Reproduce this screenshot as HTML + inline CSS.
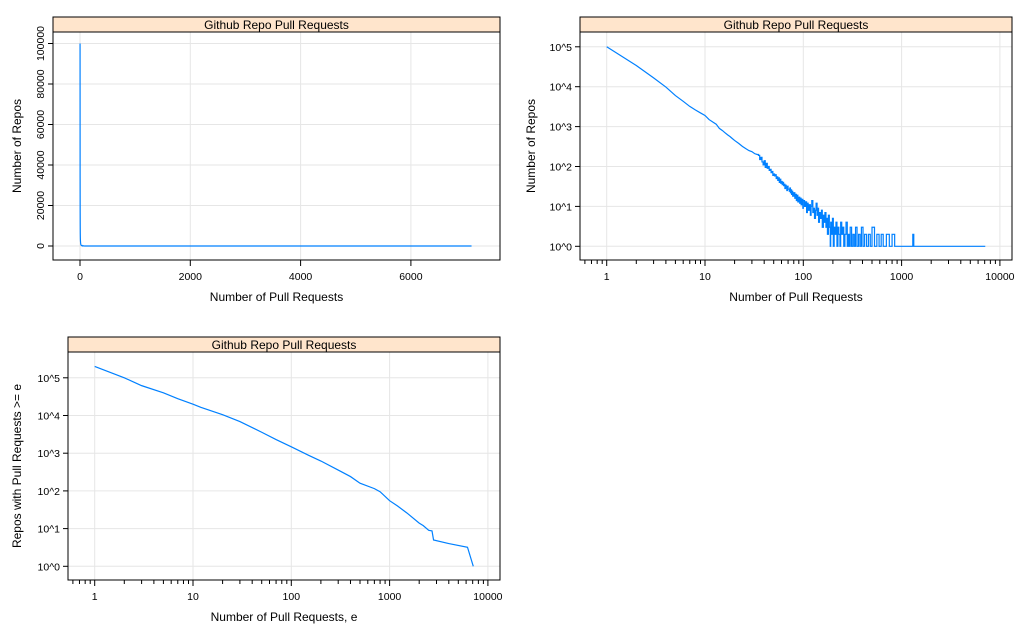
<!DOCTYPE html>
<html><head><meta charset="utf-8">
<style>
html,body{margin:0;padding:0;background:#fff;}
svg{display:block;font-family:"Liberation Sans",Arial,sans-serif;}
</style></head>
<body>
<svg id="chart" width="1024" height="640" viewBox="0 0 1024 640" xmlns="http://www.w3.org/2000/svg"></svg>
<script>
// Distribution data: number of pull requests vs number of repos (nonzero counts only)
const prCounts = [1,2,3,4,5,6,7,8,9,10,11,12,13,14,15,16,17,18,19,20,22,24,26,28,30,32,34,35,36,37,38,39,40,41,42,43,44,45,46,47,48,49,50,51,52,53,54,55,56,57,58,59,60,61,62,63,64,65,66,67,68,69,70,72,73,74,75,76,77,78,80,82,83,85,86,88,90,92,93,95,97,99,100,103,105,108,110,112,115,118,120,122,125,128,130,133,135,138,140,143,146,150,153,156,160,163,166,170,173,176,180,184,188,190,194,198,202,206,210,215,220,225,230,236,240,246,252,258,265,272,280,288,295,300,310,320,330,340,352,365,378,390,405,420,440,460,480,500,530,560,590,620,650,700,750,800,850,1250,1300,1330,7100];
const repoCounts = [100000,34000,16600,9800,6000,4300,3200,2600,2200,1900,1500,1300,1150,900,800,700,620,560,500,450,380,320,280,250,235,210,200,190,150,170,130,110,140,95,120,90,100,80,85,70,75,60,65,58,62,50,55,45,52,40,48,38,42,35,40,33,36,28,34,30,25,32,27,24,29,22,26,20,24,18,22,16,20,14,19,13,17,12,16,11,15,9,14,10,13,7,12,8,11,6,10,14,7,9,5,8,12,6,9,4,7,5,8,3,6,4,7,3,5,2,6,3,1,4,2,5,1,3,2,4,1,3,2,1,4,2,3,1,2,4,1,2,1,3,1,2,1,3,1,2,1,3,1,2,1,2,1,3,1,2,1,2,1,2,1,2,1,1,2,1,1];
// Cumulative: repos with pull requests >= e
const cumE = [1,2,3,5,7,10,12,20,30,50,70,100,150,200,300,400,500,700,800,1000,1200,1500,2000,2200,2500,2700,2800,4000,6200,7100];
const cumRepos = [200000,100000,62000,40000,28000,20000,16500,10500,6900,3600,2300,1480,880,620,357,240,160,115,95,55,40,26,14,12,9,8.7,5,4,3.2,1];
const linXTicks = [0,2000,4000,6000];
const linYTicks = [0,20000,40000,60000,80000,100000];
const logXTicks = [1,10,100,1000,10000];
const logYTicks = [0,1,2,3,4,5];

const NS="http://www.w3.org/2000/svg";
const svg=document.getElementById('chart');
function mk(tag,attrs,parent){const e=document.createElementNS(NS,tag);for(const k in attrs)e.setAttribute(k,attrs[k]);(parent||svg).appendChild(e);return e;}

function panel(p){
  const g=mk('g',{});
  
  
  const X=p.sx,Y=p.sy;
  p.xg.forEach(v=>{const gx=X(v);const l=mk('line',{x1:gx,x2:gx,y1:p.t+15,y2:p.b,stroke:'#e6e6e6','stroke-width':1},g);
    });
  p.yg.forEach(v=>{const gy=Y(v);const l=mk('line',{x1:p.l,x2:p.r,y1:gy,y2:gy,stroke:'#e6e6e6','stroke-width':1},g);
    });
  let d='';
  p.xs.forEach((xv,i)=>{const px=X(xv),py=Y(p.ys[i]);
    if(i===0)d+='M'+px.toFixed(2)+','+py.toFixed(2);
    else if(p.step&&xv>=p.step)d+='H'+px.toFixed(2)+'V'+py.toFixed(2);
    else d+='L'+px.toFixed(2)+','+py.toFixed(2);});
  const path=mk('path',{d:d,fill:'none',stroke:'#0080ff','stroke-width':1.2},g);
  
  
  const s=mk('rect',{x:p.l,y:p.t,width:p.r-p.l,height:15,fill:'#ffe5cc',stroke:'#000','stroke-width':1},g);
  
  const st=mk('text',{x:(p.l+p.r)/2,y:p.t+12,'text-anchor':'middle','font-size':12,fill:'#000'},g);
  st.textContent='Github Repo Pull Requests';
  
  const f=mk('rect',{x:p.l,y:p.t,width:p.r-p.l,height:p.b-p.t,fill:'none',stroke:'#000','stroke-width':1},g);
  
  p.xt.forEach((v,i)=>{const px=X(v);mk('line',{x1:px,x2:px,y1:p.b,y2:p.b+6,stroke:'#000'},g);
    const t=mk('text',{x:px,y:p.b+20,'text-anchor':'middle','font-size':10.5,fill:'#000'},g);
    t.textContent=p.xl[i];});
  if(p.minor){for(let dec=-1;dec<4;dec++)for(let m=2;m<=9;m++){const v=m*Math.pow(10,dec);if(v<0.6||v>9000)continue;const px=X(v);
    mk('line',{x1:px,x2:px,y1:p.b,y2:p.b+4,stroke:'#000'},g);}}
  p.yt.forEach((v,i)=>{const py=Y(v);mk('line',{x1:p.l-5,x2:p.l,y1:py,y2:py,stroke:'#000'},g);
    let t;
    if(p.rotY){t=mk('text',{x:p.l-9,y:py,'text-anchor':'middle','font-size':10.5,fill:'#000',transform:'rotate(-90 '+(p.l-9)+' '+py+')'},g);}
    else{t=mk('text',{x:p.l-8,y:py+4,'text-anchor':'end','font-size':10.5,fill:'#000'},g);}
    t.textContent=p.yl[i];});
  const xt=mk('text',{x:(p.l+p.r)/2,y:p.b+41,'text-anchor':'middle','font-size':12,fill:'#000'},g);
  xt.textContent=p.xtitle;
  const cy=(p.t+15+p.b)/2;
  const yt=mk('text',{x:p.ytx,y:cy,'text-anchor':'middle','font-size':12,fill:'#000',transform:'rotate(-90 '+p.ytx+' '+cy+')'},g);
  yt.textContent=p.ytitle;
}
const supLabels=logYTicks.map(v=>'10^'+v);
panel({name:'panel-linear',l:53,r:500,t:17,b:260,
  sx:v=>80+v*(110.3/2000),sy:v=>246-v*(202.5/100000),
  xs:prCounts,ys:repoCounts,step:false,
  xg:linXTicks,yg:linYTicks,xt:linXTicks,xl:linXTicks.map(String),yt:linYTicks,yl:linYTicks.map(String),rotY:true,
  xtitle:'Number of Pull Requests',ytitle:'Number of Repos',ytx:21});
panel({name:'panel-loglog',l:580,r:1012,t:17,b:260,
  sx:v=>606.7+Math.log10(v)*98.3,sy:v=>246.3-Math.log10(v)*39.9,
  xs:prCounts,ys:repoCounts,step:35,
  xg:logXTicks,yg:logYTicks.map(v=>Math.pow(10,v)),xt:logXTicks,xl:logXTicks.map(String),yt:logYTicks.map(v=>Math.pow(10,v)),yl:supLabels,minor:true,
  xtitle:'Number of Pull Requests',ytitle:'Number of Repos',ytx:535});
panel({name:'panel-cumulative',l:68,r:500,t:337,b:580,
  sx:v=>94.7+Math.log10(v)*98.3,sy:v=>566.3-Math.log10(v)*37.7,
  xs:cumE,ys:cumRepos,step:false,
  xg:logXTicks,yg:logYTicks.map(v=>Math.pow(10,v)),xt:logXTicks,xl:logXTicks.map(String),yt:logYTicks.map(v=>Math.pow(10,v)),yl:supLabels,minor:true,
  xtitle:'Number of Pull Requests, e',ytitle:'Repos with Pull Requests >= e',ytx:21});
</script>
</body></html>
